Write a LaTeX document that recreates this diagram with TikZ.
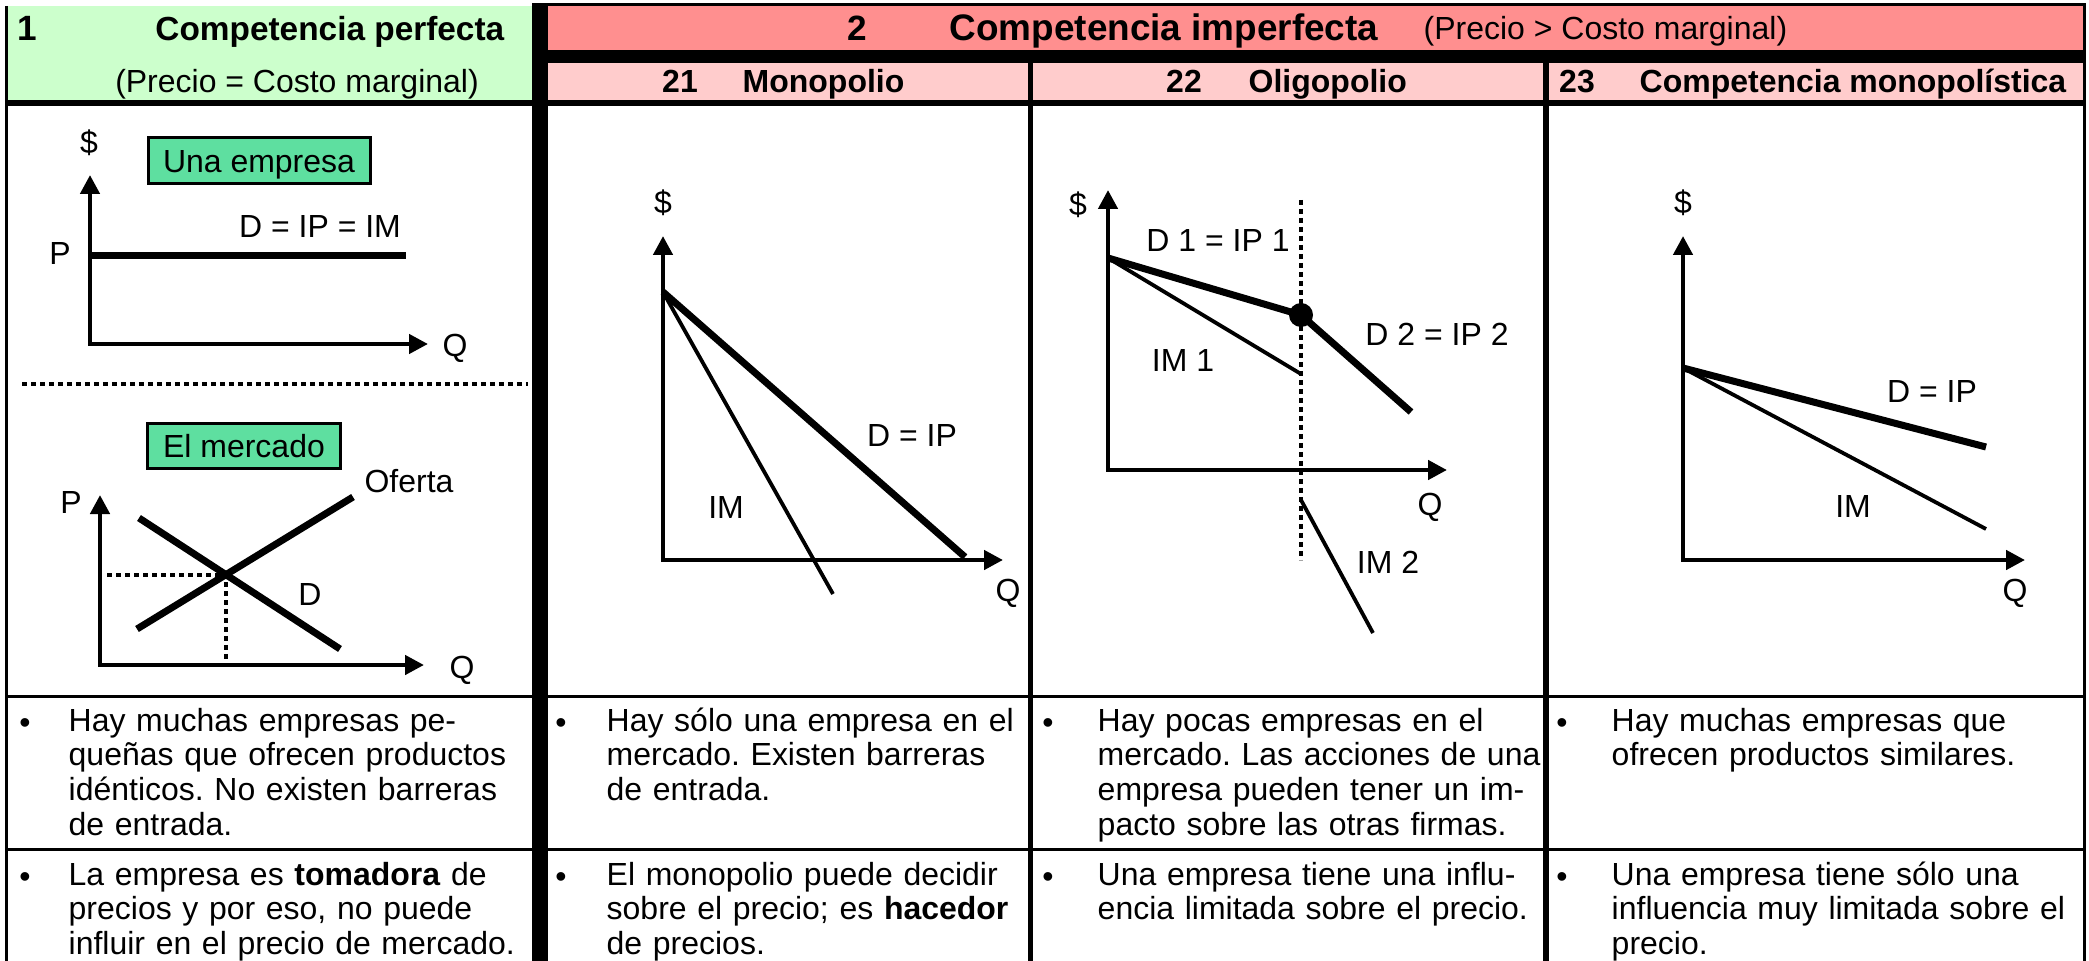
\documentclass[tikz,border=0pt]{standalone}
\usepackage{fontspec}
\setmainfont{Liberation Sans}
\usetikzlibrary{arrows.meta}
\definecolor{verdeclaro}{HTML}{CCFFCC}
\definecolor{rojohead}{HTML}{FF8F8F}
\definecolor{rosahead}{HTML}{FFCCCC}
\definecolor{verdecaja}{HTML}{5EDFA0}
\frenchspacing
\tikzset{
  lbl/.style={font=\fontsize{9.1}{11}\selectfont, inner sep=0pt, text height=2.3mm, text depth=0pt},
  head/.style={lbl, font=\fontsize{10}{12}\selectfont\bfseries, text height=2.5mm},
  subhead/.style={lbl, font=\fontsize{9.1}{11}\selectfont\bfseries},
  cell/.style={font=\fontsize{9.1}{9.9}\selectfont, inner sep=0pt, text width=60mm, align=left, anchor=base west},
  caja/.style={lbl, draw, line width=0.3mm, fill=verdecaja},
  ejes/.style={line width=0.45mm, {Triangle[length=1.9mm,width=1.9mm]}-{Triangle[length=1.9mm,width=1.9mm]}},
  curva/.style={line width=0.7mm},
  curvafina/.style={line width=0.38mm},
  punteado/.style={line width=0.42mm, dash pattern=on 0.5mm off 0.4mm},
  borde/.style={line width=0.3mm}
}
\begin{document}
\begin{tikzpicture}[x=0.1mm, y=-0.1mm]
\useasboundingbox (0,0) rectangle (2089,961);
% cabecera
\fill[verdeclaro] (8,6) rectangle (532,100);
\fill[rojohead] (548,6) rectangle (2084,50);
\fill[rosahead] (548,63) rectangle (2084,100);
\fill (548,50) rectangle (2086,63);
\fill (532,6) rectangle (548,961);
\fill (5,100) rectangle (2086,106);
\fill (1028,63) rectangle (1033,961);
\fill (1543,63) rectangle (1549,961);
\draw[borde] (532,5) -- (2086,5);
\draw[borde] (6.5,6) -- (6.5,961);
\draw[borde] (2084.5,5) -- (2084.5,961);
\draw[borde] (5,696.5) -- (2086,696.5);
\draw[borde] (5,849.5) -- (2086,849.5);

\node[head] (n1) at (27,28) {1};
\node[head, font=\fontsize{9.5}{12}\selectfont\bfseries, anchor=east] (t1) at (505,28) {Competencia perfecta};
\node[lbl] (s1) at (297,81) {(Precio = Costo marginal)};
\node[head] (n2) at (857,28) {2};
\node[head, font=\fontsize{10.5}{12}\selectfont\bfseries, anchor=west] (t2) at (949,28) {Competencia imperfecta};
\node[lbl, anchor=west] (s2) at (1423,28) {(Precio > Costo marginal)};
\node[subhead] (n21) at (680,81) {21};
\node[subhead, anchor=west] (t21) at (742,81) {Monopolio};
\node[subhead] (n22) at (1184,81) {22};
\node[subhead, anchor=west] (t22) at (1248,81) {Oligopolio};
\node[subhead] (n23) at (1577,81) {23};
\node[subhead, anchor=west] (t23) at (1639,81) {Competencia monopolística};

% una empresa
\coordinate (e-y) at (90,175);
\coordinate (e-x) at (428,344);
\coordinate (e-p) at (90,256);
\coordinate (e-d) at (406,256);
\draw[ejes] (e-y) |- (e-x);
\draw[curva] (e-p) -- (e-d);
\node[caja, minimum width=22.2mm, minimum height=4.6mm] (e-caja) at (259,161) {Una empresa};
\node[lbl] (e-dol) at (89,142) {\$};
\node[lbl] (e-P) at (60,253) {P};
\node[lbl] (e-dlab) at (320,226) {D = IP = IM};
\node[lbl] (e-Q) at (455,345) {Q};

\coordinate (sep-a) at (22,384);
\coordinate (sep-b) at (528,384);
\draw[punteado] (sep-a) -- (sep-b);

% el mercado
\coordinate (m-y) at (100,495);
\coordinate (m-x) at (424,665);
\coordinate (s-a) at (137,629);
\coordinate (s-b) at (353,497);
\coordinate (dm-a) at (139,518);
\coordinate (dm-b) at (340,649);
\coordinate (eq) at (226,575);
\coordinate (eq-p) at (107,575);
\coordinate (eq-q) at (226,659);
\draw[punteado] (eq-p) -- (eq) -- (eq-q);
\draw[ejes] (m-y) |- (m-x);
\draw[curva] (s-a) -- (s-b);
\draw[curva] (dm-a) -- (dm-b);
\node[caja, minimum width=19.3mm, minimum height=4.5mm] (m-caja) at (244,446) {El mercado};
\node[lbl] (m-of) at (409,481) {Oferta};
\node[lbl] (m-P) at (71,502) {P};
\node[lbl] (m-D) at (310,594) {D};
\node[lbl] (m-Q) at (462,667) {Q};

% monopolio
\coordinate (a-y) at (663,236);
\coordinate (a-x) at (1003,560);
\coordinate (a-0) at (663,292);
\coordinate (a-d) at (965,557);
\coordinate (a-im) at (833,594);
\draw[ejes] (a-y) |- (a-x);
\draw[curva] (a-0) -- (a-d);
\draw[curvafina] (a-0) -- (a-im);
\node[lbl] (a-dol) at (663,202) {\$};
\node[lbl] (a-Q) at (1008,590) {Q};
\node[lbl] (a-dlab) at (912,435) {D = IP};
\node[lbl] (a-imlab) at (726,507) {IM};

% oligopolio
\coordinate (b-y) at (1108,190);
\coordinate (b-x) at (1447,470);
\coordinate (b-0) at (1108,258);
\coordinate (b-k) at (1301,315);
\coordinate (b-d2) at (1411,412);
\coordinate (b-im1) at (1301,374);
\coordinate (b-im2a) at (1301,500);
\coordinate (b-im2b) at (1373,633);
\coordinate (b-va) at (1301,200);
\coordinate (b-vb) at (1301,560);
\draw[punteado] (b-va) -- (b-vb);
\draw[ejes] (b-y) |- (b-x);
\draw[curva] (b-0) -- (b-k) -- (b-d2);
\draw[curvafina] (b-0) -- (b-im1);
\draw[curvafina] (b-im2a) -- (b-im2b);
\fill (b-k) circle[radius=1.2mm];
\node[lbl] (b-dol) at (1078,204) {\$};
\node[lbl] (b-Q) at (1430,504) {Q};
\node[lbl] (b-d1lab) at (1218,240) {D 1 = IP 1};
\node[lbl] (b-d2lab) at (1437,334) {D 2 = IP 2};
\node[lbl] (b-im1lab) at (1183,360) {IM 1};
\node[lbl] (b-im2lab) at (1388,562) {IM 2};

% competencia monopolistica
\coordinate (c-y) at (1683,236);
\coordinate (c-x) at (2025,560);
\coordinate (c-0) at (1683,368);
\coordinate (c-d) at (1986,447);
\coordinate (c-im) at (1986,529);
\draw[ejes] (c-y) |- (c-x);
\draw[curva] (c-0) -- (c-d);
\draw[curvafina] (c-0) -- (c-im);
\node[lbl] (c-dol) at (1683,202) {\$};
\node[lbl] (c-Q) at (2015,590) {Q};
\node[lbl] (c-dlab) at (1932,391) {D = IP};
\node[lbl] (c-imlab) at (1853,506) {IM};

% filas de texto
\foreach \bx/\nm in {25/1, 561/2, 1048/3, 1562/4} {
  \node[lbl] (bul1\nm) at (\bx,722) {\textbullet};
  \node[lbl] (bul2\nm) at (\bx,876) {\textbullet};
}
\node[cell] (c11) at (68,731) {Hay muchas empresas pe-\\queñas que ofrecen productos\\idénticos. No existen barreras\\de entrada.};
\node[cell] (c12) at (606,731) {Hay sólo una empresa en el\\mercado. Existen barreras\\de entrada.};
\node[cell] (c13) at (1097,731) {Hay pocas empresas en el\\mercado. Las acciones de una\\empresa pueden tener un im-\\pacto sobre las otras firmas.};
\node[cell] (c14) at (1611,731) {Hay muchas empresas que\\ofrecen productos similares.};
\node[cell] (c21) at (68,885) {La empresa es \textbf{tomadora} de\\precios y por eso, no puede\\influir en el precio de mercado.};
\node[cell] (c22) at (606,885) {El monopolio puede decidir\\sobre el precio; es \textbf{hacedor}\\de precios.};
\node[cell] (c23) at (1097,885) {Una empresa tiene una influ-\\encia limitada sobre el precio.};
\node[cell] (c24) at (1611,885) {Una empresa tiene sólo una\\influencia muy limitada sobre el\\precio.};
\end{tikzpicture}
\end{document}
